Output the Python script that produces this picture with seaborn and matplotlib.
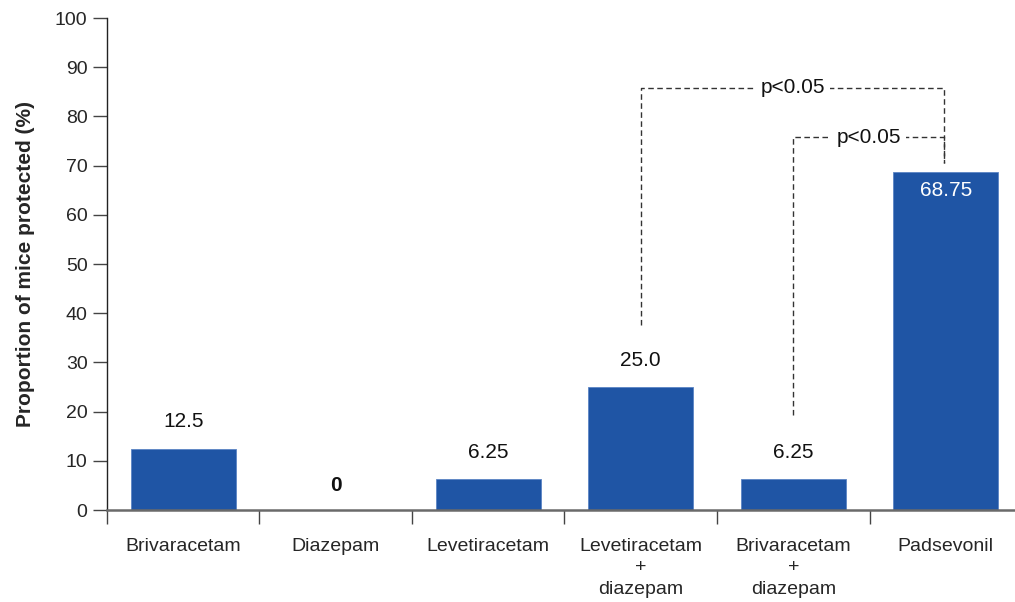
import matplotlib
matplotlib.use("Agg")
import matplotlib.pyplot as plt
import seaborn as sns
import pandas as pd

# Data
categories = ["Brivaracetam", "Diazepam", "Levetiracetam",
              "Levetiracetam\n+\ndiazepam", "Brivaracetam\n+\ndiazepam", "Padsevonil"]
protected = [12.5, 0, 6.25, 25.0, 6.25, 68.75]
value_labels = ["12.5", "0", "6.25", "25.0", "6.25", "68.75"]
yticks = [0, 10, 20, 30, 40, 50, 60, 70, 80, 90, 100]

sns.set_theme(style="white")
plt.rcParams["font.family"] = ["Liberation Sans", "DejaVu Sans"]
plt.rcParams["font.sans-serif"] = ["Liberation Sans", "DejaVu Sans"]

df = pd.DataFrame({"group": categories, "pct": protected})

fig = plt.figure(figsize=(10.15, 6.02), dpi=100)
ax = fig.add_axes([0.1054, 0.1528, 0.8946, 0.8172])

bar_color = "#1F55A5"
sns.barplot(data=df, x="group", y="pct", color=bar_color, width=0.69,
            saturation=1, ax=ax, edgecolor="#5B84C4", linewidth=0.6)

ax.set_xlim(-0.5, 5.454)
ax.set_ylim(0, 100)
ax.set_yticks(yticks)
ax.set_yticklabels([str(t) for t in yticks], fontsize=14)
ax.set_xlabel("")
ax.set_ylabel("Proportion of mice protected (%)", fontsize=15, fontweight="bold",
              labelpad=14)

# category labels centred, separator ticks between groups
ax.set_xticks(range(len(categories)))
ax.set_xticklabels(categories, fontsize=14, linespacing=1.35)
ax.tick_params(axis="x", which="major", bottom=True, length=0, pad=20)
ax.set_xticks([i - 0.5 for i in range(len(categories))], minor=True)
ax.tick_params(axis="x", which="minor", bottom=True, length=10, width=1,
               color="#444444", direction="out")
ax.tick_params(axis="y", which="major", left=True, length=10, width=1,
               color="#444444", direction="out", pad=4)

for side in ["top", "right"]:
    ax.spines[side].set_visible(False)
ax.spines["left"].set_color("#222222")
ax.spines["left"].set_linewidth(1)
ax.spines["bottom"].set_color("#6A6A6A")
ax.spines["bottom"].set_linewidth(1.8)

# value labels
for i, (v, lab) in enumerate(zip(protected, value_labels)):
    if v > 50:
        ax.text(i, v - 3.75, lab, ha="center", va="center", color="white", fontsize=15)
    elif v == 0:
        ax.text(i, v + 4.9, lab, ha="center", va="center", color="#111111",
                fontsize=15, fontweight="bold")
    else:
        ax.text(i, v + 5.4, lab, ha="center", va="center", color="#111111", fontsize=15)

# significance brackets
dash = dict(color="#333333", linewidth=1, linestyle=(0, (4, 2.5)))


def bracket(x1, x2, y_left, y_top, y_right, text):
    ax.plot([x1, x1, x2, x2], [y_left, y_top, y_top, y_right], **dash)
    ax.text((x1 + x2) / 2, y_top, text, ha="center", va="center", fontsize=15,
            color="#111111", bbox=dict(boxstyle="square,pad=0.25", fc="white", ec="none"))


bracket(3, 4.99, 37.6, 85.8, 70.5, "p<0.05")
bracket(4, 4.99, 19.3, 75.8, 70.5, "p<0.05")

fig.savefig("out.png", dpi=100)
